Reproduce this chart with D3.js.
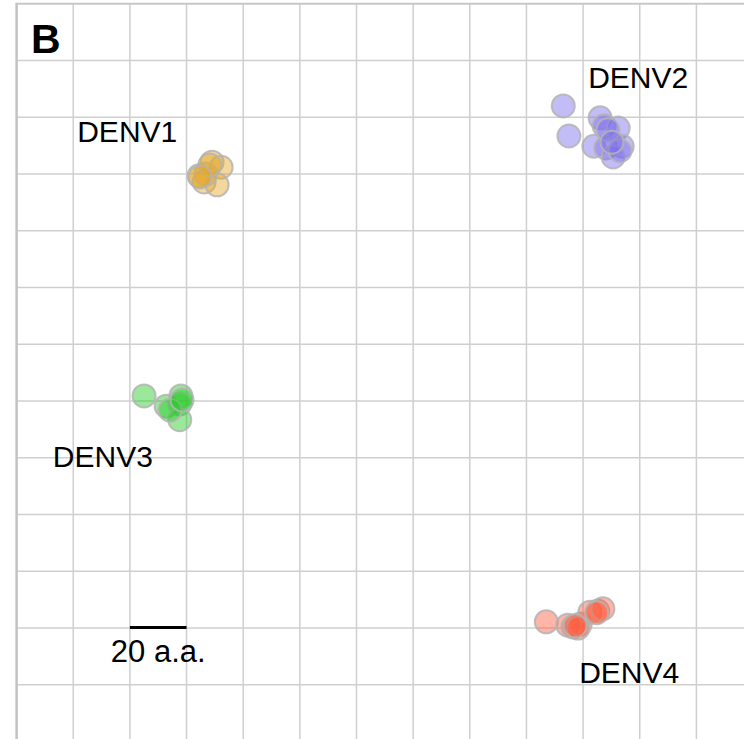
<!DOCTYPE html>
<html lang="en">
<head>
    <meta charset="UTF-8">
    <title>DENV antigenic map</title>
    <script src="https://cdnjs.cloudflare.com/ajax/libs/d3/7.8.5/d3.min.js"></script>
    <style>
        body { margin: 0; background: #fff; }
        text { font-family: "Liberation Sans", Arial, sans-serif; fill: #000; }
        .grid line { stroke: #cfcfcf; stroke-width: 1.5px; }
        .pt { stroke: #b4b4b4; stroke-width: 2px; }
    </style>
</head>
<body>
    <div id="chart"></div>

    <script>
        // serotype clusters, coordinates in map units (1 unit = 1 grid cell = 20 a.a.)
        const serotypes = ["DENV1", "DENV2", "DENV3", "DENV4"];
        const colors = ["#e6a623", "#7a6cee", "#22cc22", "#ff5a3c"];

        const denv1X = [3.45, 3.61, 3.22, 3.31, 3.54, 3.34, 3.41, 3.24];
        const denv1Y = [2.79, 2.88, 3.03, 3.14, 3.19, 3.00, 2.84, 3.05];

        const denv2X = [9.65, 9.75, 10.30, 10.37, 10.62, 10.19, 10.40, 10.69, 10.53, 10.65, 10.44, 10.51];
        const denv2Y = [1.80, 2.33, 2.01, 2.15, 2.19, 2.51, 2.54, 2.51, 2.70, 2.59, 2.22, 2.44];

        const denv3X = [2.25, 2.64, 2.90, 2.88, 2.88, 2.71, 2.92];
        const denv3Y = [6.91, 7.09, 6.91, 7.05, 7.33, 7.16, 6.98];

        const denv4X = [9.35, 9.73, 9.82, 9.95, 10.12, 10.26, 10.35, 9.91, 9.86, 10.24];
        const denv4Y = [10.89, 10.95, 10.98, 10.93, 10.72, 10.70, 10.66, 11.00, 10.96, 10.73];

        // label anchors (map units) for each serotype
        const labelX = [1.07, 10.09, 0.64, 9.93];
        const labelY = [2.44, 1.48, 8.16, 11.97];

        const width = 744;
        const height = 739;

        const svg = d3.select("#chart").append("svg")
            .attr("width", width)
            .attr("height", height);

        const x = d3.scaleLinear().domain([0, 1]).range([16.6, 16.6 + 56.65]);
        const y = d3.scaleLinear().domain([0, 1]).range([3.8, 3.8 + 56.75]);

        // grid
        const grid = svg.append("g").attr("class", "grid");
        grid.selectAll(".v")
            .data(d3.range(1, 13))
            .enter().append("line")
            .attr("x1", d => x(d)).attr("x2", d => x(d))
            .attr("y1", y(0)).attr("y2", height);
        grid.selectAll(".h")
            .data(d3.range(1, 13))
            .enter().append("line")
            .attr("x1", x(0)).attr("x2", width)
            .attr("y1", d => y(d)).attr("y2", d => y(d));

        // borders
        svg.append("line")
            .attr("x1", x(0)).attr("x2", x(0))
            .attr("y1", y(0) - 1).attr("y2", height)
            .attr("stroke", "#c2c2c2").attr("stroke-width", 2.5);
        svg.append("line")
            .attr("x1", x(0)).attr("x2", width)
            .attr("y1", y(0)).attr("y2", y(0))
            .attr("stroke", "#c8c8c8").attr("stroke-width", 2);

        // points
        const xs = [denv1X, denv2X, denv3X, denv4X];
        const ys = [denv1Y, denv2Y, denv3Y, denv4Y];
        const points = [];
        serotypes.forEach((s, i) => {
            xs[i].forEach((v, j) => points.push({ s: s, c: colors[i], x: v, y: ys[i][j] }));
        });

        svg.append("g").selectAll("circle")
            .data(points)
            .enter().append("circle")
            .attr("class", "pt")
            .attr("cx", d => x(d.x))
            .attr("cy", d => y(d.y))
            .attr("r", 11.5)
            .attr("fill", d => d.c)
            .attr("fill-opacity", 0.45)
            .attr("stroke-opacity", 0.85);

        // serotype labels
        svg.append("g").selectAll("text")
            .data(serotypes)
            .enter().append("text")
            .attr("x", (d, i) => x(labelX[i]))
            .attr("y", (d, i) => y(labelY[i]))
            .style("font-size", "30px")
            .text(d => d);

        // scale bar: one grid unit = 20 a.a.
        svg.append("line")
            .attr("x1", x(2)).attr("x2", x(3))
            .attr("y1", y(10.99)).attr("y2", y(10.99))
            .attr("stroke", "#000").attr("stroke-width", 3);
        svg.append("text")
            .attr("x", x(2.5))
            .attr("y", 662)
            .attr("text-anchor", "middle")
            .style("font-size", "31px")
            .text("20 a.a.");

        // panel letter
        svg.append("text")
            .attr("x", 31)
            .attr("y", 53)
            .style("font-size", "41px")
            .style("font-weight", "bold")
            .text("B");
    </script>
</body>
</html>
